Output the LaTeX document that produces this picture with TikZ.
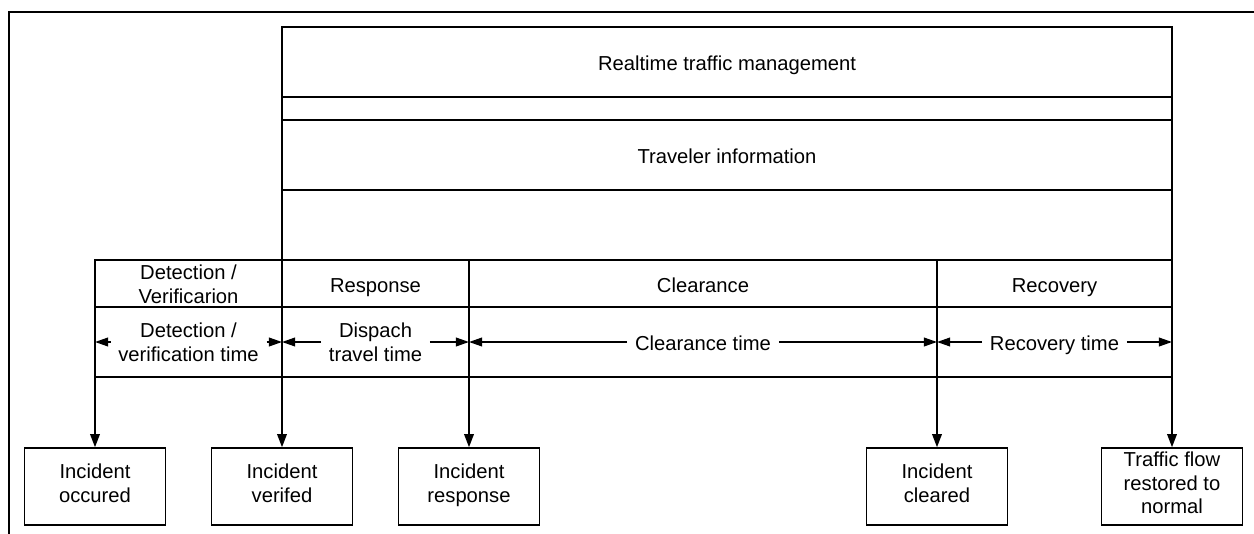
\documentclass[tikz,border=0pt]{standalone}
\usepackage{fontspec}
\setmainfont{Liberation Sans}
\usetikzlibrary{arrows.meta}

\begin{document}
\begin{tikzpicture}[x=0.02cm, y=-0.02cm, line width=0.9pt,
    font=\fontsize{11.5}{13.5}\selectfont,
    every node/.style={align=center, execute at begin node=\strut, execute at end node=\strut},
    lbl/.style={yshift=-2pt},
    timelbl/.style={lbl, inner xsep=4pt, inner ysep=1pt},
    dimarrow/.style={-{Triangle[length=7.5pt,width=5pt]}},
    downarrow/.style={-{Triangle[length=7.5pt,width=5.5pt]}},
    eventbox/.style={draw, minimum width=2.82cm, minimum height=1.54cm, inner sep=1pt}]
    \useasboundingbox (0,0) rectangle (1254,534);

    % outer frame (top and left only)
    \draw (1254,12) -- (9,12) -- (9,534);

    % management block
    \draw (282,27) rectangle (1172,260);
    \draw (282,97) -- (1172,97);
    \draw (282,120) -- (1172,120);
    \draw (282,190) -- (1172,190);
    \node[lbl] (rtm) at (727,62) {Realtime traffic management};
    \node[lbl] (trav) at (727,155) {Traveler information};

    % phase table
    \draw (95,260) rectangle (1172,377);
    \draw (95,307) -- (1172,307);
    \draw (282,260) -- (282,377);
    \draw (469,260) -- (469,377);
    \draw (937,260) -- (937,377);

    \node[lbl] (detect) at (188.5,284) {Detection /\\Verificarion};
    \node[lbl] (resp) at (375.5,284) {Response};
    \node[lbl] (clear) at (703,284) {Clearance};
    \node[lbl] (recov) at (1054.5,284) {Recovery};

    % time spans
    \coordinate (t0) at (95,342);
    \coordinate (t1) at (282,342);
    \coordinate (t2) at (469,342);
    \coordinate (t3) at (937,342);
    \coordinate (t4) at (1172,342);
    \node[timelbl] (dettime) at (188.5,342) {Detection /\\verification time};
    \node[timelbl] (disptime) at (375.5,342) {Dispach\\travel time};
    \node[timelbl] (cleartime) at (703,342) {Clearance time};
    \node[timelbl] (recovtime) at (1054.5,342) {Recovery time};
    \draw[dimarrow] (dettime.west |- t0) -- (t0);
    \draw[dimarrow] (dettime.east |- t1) -- (t1);
    \draw[dimarrow] (disptime.west |- t1) -- (t1);
    \draw[dimarrow] (disptime.east |- t2) -- (t2);
    \draw[dimarrow] (cleartime.west |- t2) -- (t2);
    \draw[dimarrow] (cleartime.east |- t3) -- (t3);
    \draw[dimarrow] (recovtime.west |- t3) -- (t3);
    \draw[dimarrow] (recovtime.east |- t4) -- (t4);

    % events
    \node[eventbox] (occured) at (95,486.5) {Incident\\occured};
    \node[eventbox] (verified) at (282,486.5) {Incident\\verifed};
    \node[eventbox] (response) at (469,486.5) {Incident\\response};
    \node[eventbox] (cleared) at (937,486.5) {Incident\\cleared};
    \node[eventbox] (restored) at (1172,486.5) {Traffic flow\\restored to\\normal};

    \coordinate (b0) at (95,377);
    \coordinate (b1) at (282,377);
    \coordinate (b2) at (469,377);
    \coordinate (b3) at (937,377);
    \coordinate (b4) at (1172,377);
    \draw[downarrow] (b0) -- (occured);
    \draw[downarrow] (b1) -- (verified);
    \draw[downarrow] (b2) -- (response);
    \draw[downarrow] (b3) -- (cleared);
    \draw[downarrow] (b4) -- (restored);
\end{tikzpicture}
\end{document}
